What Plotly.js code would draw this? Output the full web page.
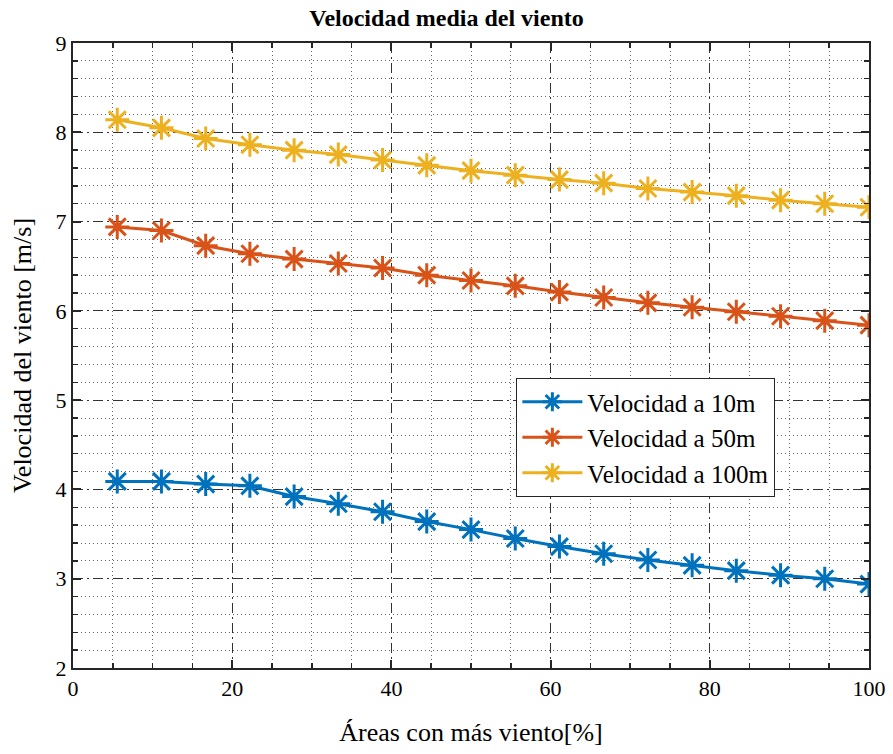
<!DOCTYPE html>
<html><head><meta charset="utf-8">
<script src="https://cdn.plot.ly/plotly-3.0.1.min.js"></script>
<style>html,body{margin:0;padding:0;background:#fff}#plot{width:893px;height:754px}</style>
</head><body><div id="plot"></div>
<script>
const areas = [5.56, 11.11, 16.67, 22.22, 27.78, 33.33, 38.89, 44.44, 50.00, 55.56, 61.11, 66.67, 72.22, 77.78, 83.33, 88.89, 94.44, 100.00];
const vel10 = [4.09, 4.09, 4.06, 4.04, 3.92, 3.84, 3.75, 3.64, 3.55, 3.45, 3.36, 3.28, 3.21, 3.15, 3.09, 3.04, 3.00, 2.94];
const vel50 = [6.94, 6.90, 6.73, 6.64, 6.58, 6.53, 6.48, 6.40, 6.34, 6.28, 6.21, 6.15, 6.09, 6.04, 5.99, 5.94, 5.89, 5.84];
const vel100 = [8.14, 8.05, 7.93, 7.86, 7.80, 7.75, 7.69, 7.63, 7.57, 7.52, 7.47, 7.43, 7.37, 7.33, 7.29, 7.24, 7.20, 7.16];
const names = ['Velocidad a 10m', 'Velocidad a 50m', 'Velocidad a 100m'];
const colors = ['#0072BD', '#D95319', '#EDB120'];
const series = [vel10, vel50, vel100];

const traces = series.map((v, i) => ({
  x: areas, y: v, type: 'scatter', mode: 'lines+markers', name: names[i],
  line: {color: colors[i], width: 3},
  marker: {symbol: 'asterisk-open', size: 20, color: colors[i], line: {color: colors[i], width: 3}}
}));

const FAM = 'Liberation Serif, Times New Roman, serif';
const f = (s) => ({family: FAM, size: s, color: '#000'});
const minorCommon = {showgrid: true, gridcolor: '#666', griddash: '1px,3px', gridwidth: 1, ticks: 'inside', ticklen: 5, tickcolor: '#262626', tickwidth: 1.5};
const axisCommon = {
  showline: true, linecolor: '#262626', linewidth: 2, mirror: 'ticks',
  ticks: 'inside', ticklen: 8, tickwidth: 2, tickcolor: '#262626',
  showgrid: true, gridcolor: '#333', gridwidth: 1, griddash: '10px,4px,2px,4px',
  zeroline: false, tickfont: f(22)
};
const layout = {
  width: 893, height: 754,
  margin: {l: 73, r: 24, t: 43, b: 86},
  paper_bgcolor: '#fff', plot_bgcolor: '#fff',
  font: f(20),
  title: {text: '<b>Velocidad media del viento</b>', font: f(24), x: 0.5, xanchor: 'center', y: 0.988, yanchor: 'top'},
  xaxis: Object.assign({}, axisCommon, {
    range: [0, 100], tick0: 0, dtick: 20,
    minor: Object.assign({dtick: 5}, minorCommon),
    title: {text: 'Áreas con más viento[%]', font: f(26), standoff: 22}
  }),
  yaxis: Object.assign({}, axisCommon, {
    range: [2, 9], tick0: 2, dtick: 1,
    minor: Object.assign({dtick: 0.2}, minorCommon),
    title: {text: 'Velocidad del viento [m/s]', font: f(26), standoff: 16}
  }),
  legend: {
    x: 0.557, y: 0.464, xanchor: 'left', yanchor: 'top',
    bgcolor: '#fff', bordercolor: '#262626', borderwidth: 1,
    font: f(25), itemwidth: 60, tracegroupgap: 0
  },
  showlegend: true
};
Plotly.newPlot('plot', traces, layout, {displayModeBar: false, staticPlot: true});
</script>
</body></html>
